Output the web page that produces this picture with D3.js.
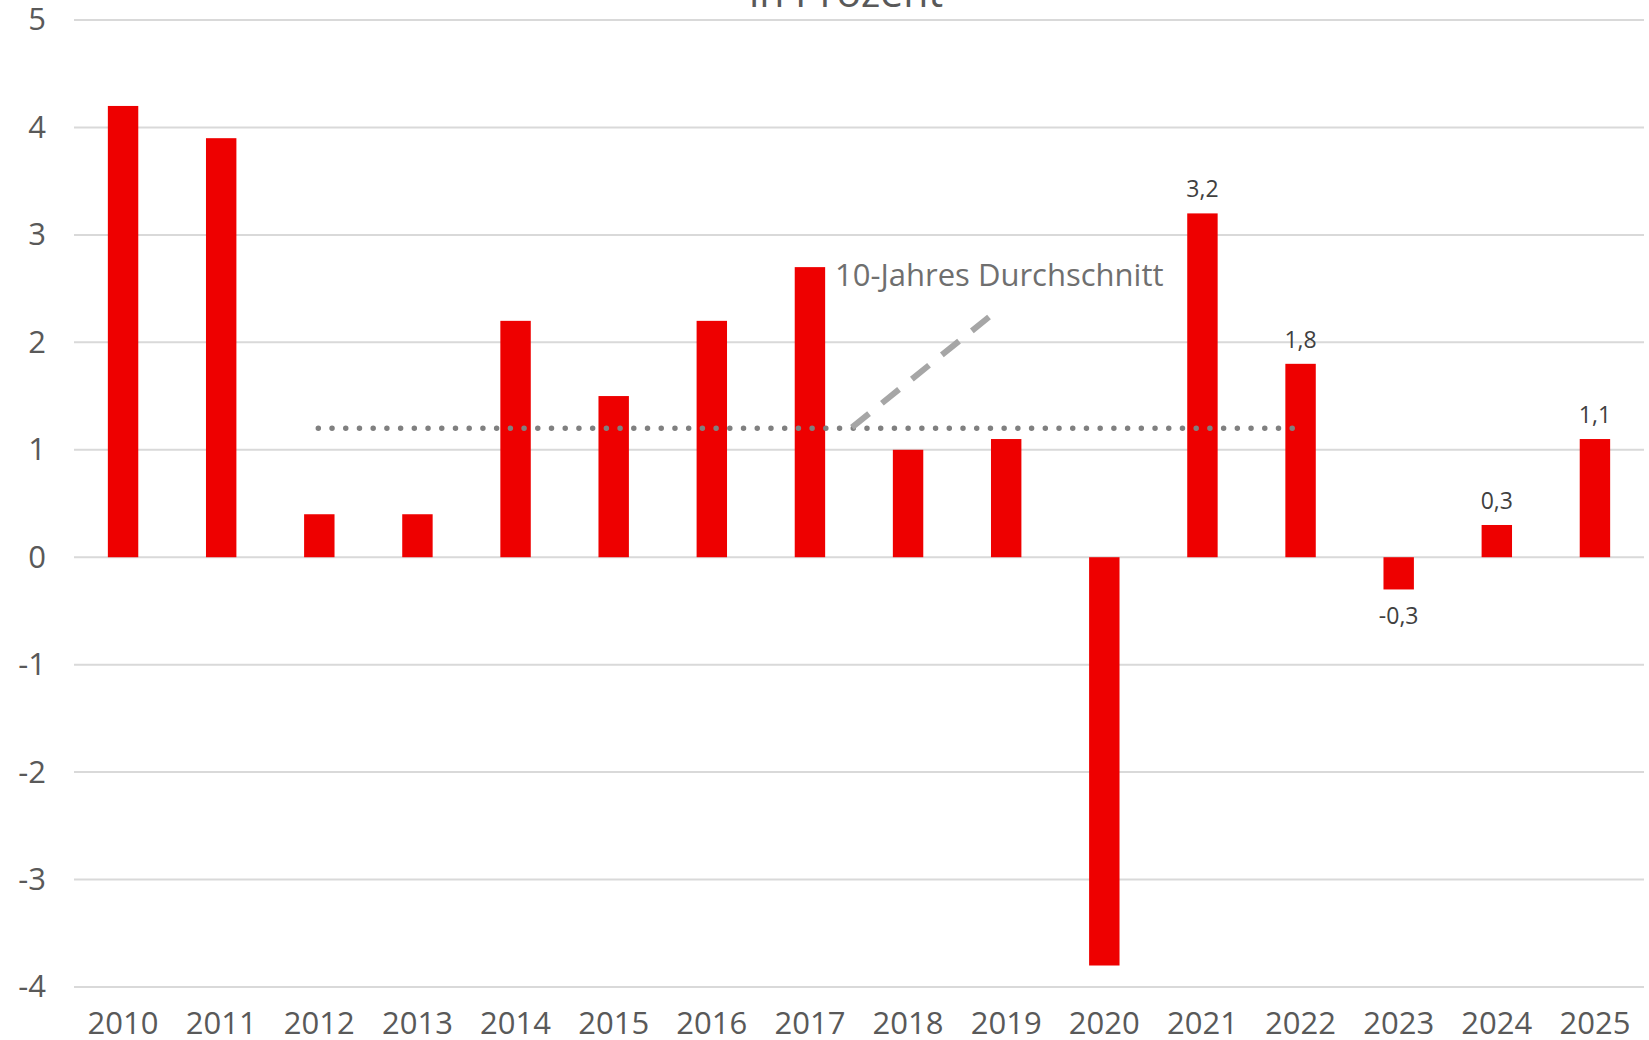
<!DOCTYPE html>
<html lang="de">
<head>
    <meta charset="UTF-8">
    <title>in Prozent</title>
    <script src="https://d3js.org/d3.v7.min.js"></script>
    <style>
        body {margin: 0; background: #fff;}
        svg {display: block;}
        text {font-family: "Open Sans", sans-serif;}
    </style>
</head>
<body>
<script>
    const width = 1649;
    const height = 1040;

    // data
    const years  = ["2010", "2011", "2012", "2013", "2014", "2015", "2016", "2017",
                    "2018", "2019", "2020", "2021", "2022", "2023", "2024", "2025"];
    const values = [4.2, 3.9, 0.4, 0.4, 2.2, 1.5, 2.2, 2.7, 1.0, 1.1, -3.8, 3.2, 1.8, -0.3, 0.3, 1.1];
    const labelled = ["2021", "2022", "2023", "2024", "2025"];
    const yTicks = [5, 4, 3, 2, 1, 0, -1, -2, -3, -4];
    const average = {from: "2012", to: "2022", value: 1.2};

    const svg = d3.select("body").append("svg")
            .attr("width", width).attr("height", height);

    const x = d3.scaleBand()
            .domain(years)
            .range([74, 1644])
            .paddingInner(0.69)
            .paddingOuter(0.345);

    const y = d3.scaleLinear()
            .domain([-4, 5])
            .range([987, 20]);

    // german number format, plain hyphen as minus
    const de = d3.formatLocale({decimal: ",", thousands: ".", grouping: [3], currency: ["", " €"], minus: "-"});
    const fmt = de.format(".1f");
    const fmtInt = de.format("d");

    // title (cut off at the top edge)
    svg.append("text")
            .attr("x", 846).attr("y", 7)
            .attr("text-anchor", "middle")
            .style("font-size", "41px")
            .style("fill", "#595959")
            .text("in Prozent");

    // gridlines
    svg.append("g").attr("class", "grid")
            .selectAll("line")
            .data(yTicks)
            .enter().append("line")
            .attr("x1", 74).attr("x2", 1644)
            .attr("y1", d => y(d)).attr("y2", d => y(d))
            .style("stroke", "#d9d9d9")
            .style("stroke-width", 2);

    // y axis labels
    const yAxis = svg.append("g")
            .attr("transform", "translate(46,0)")
            .call(d3.axisLeft(y).tickValues(yTicks).tickSize(0).tickPadding(0).tickFormat(fmtInt));
    yAxis.select(".domain").remove();
    yAxis.selectAll("text")
            .attr("x", 0)
            .style("font-family", "'Open Sans', sans-serif")
            .style("font-size", "31px")
            .style("fill", "#595959");

    // x axis labels
    const xAxis = svg.append("g")
            .attr("transform", "translate(0,1005)")
            .call(d3.axisBottom(x).tickSize(0).tickPadding(0));
    xAxis.select(".domain").remove();
    xAxis.selectAll("text")
            .attr("dy", "0.95em")
            .style("font-family", "'Open Sans', sans-serif")
            .style("font-size", "31px")
            .style("fill", "#595959");

    // bars
    svg.append("g").attr("class", "bars")
            .selectAll("rect")
            .data(years.map((d, i) => ({year: d, value: values[i]})))
            .enter().append("rect")
            .attr("x", d => x(d.year))
            .attr("width", x.bandwidth())
            .attr("y", d => y(Math.max(0, d.value)))
            .attr("height", d => Math.abs(y(d.value) - y(0)))
            .style("fill", "#ee0000");

    // 10-year average, dotted
    const ax1 = x(average.from) + x.bandwidth() / 2 - 1;
    const ax2 = x(average.to) + x.bandwidth() / 2 - 8;
    svg.append("line")
            .attr("x1", ax1).attr("x2", ax2)
            .attr("y1", y(average.value)).attr("y2", y(average.value))
            .style("stroke", "#808080")
            .style("stroke-width", 5.5)
            .style("stroke-linecap", "round")
            .style("stroke-dasharray", "0 " + ((ax2 - ax1) / 71 - 0.005));

    // annotation with leader line
    svg.append("line")
            .attr("x1", 989).attr("y1", 317)
            .attr("x2", 852).attr("y2", y(average.value) - 1)
            .style("stroke", "#a6a6a6")
            .style("stroke-width", 6)
            .style("stroke-dasharray", "22 16.5");

    svg.append("text")
            .attr("x", 835).attr("y", 286)
            .style("font-size", "31px")
            .style("fill", "#6f6f6f")
            .text("10-Jahres Durchschnitt");

    // data labels for the latest years
    svg.append("g").attr("class", "labels")
            .selectAll("text")
            .data(years.map((d, i) => ({year: d, value: values[i]})).filter(d => labelled.includes(d.year)))
            .enter().append("text")
            .attr("x", d => x(d.year) + x.bandwidth() / 2)
            .attr("y", d => d.value >= 0 ? y(d.value) - 16 : y(d.value) + 35)
            .attr("text-anchor", "middle")
            .style("font-size", "23px")
            .style("fill", "#404040")
            .text(d => fmt(d.value));
</script>
</body>
</html>
